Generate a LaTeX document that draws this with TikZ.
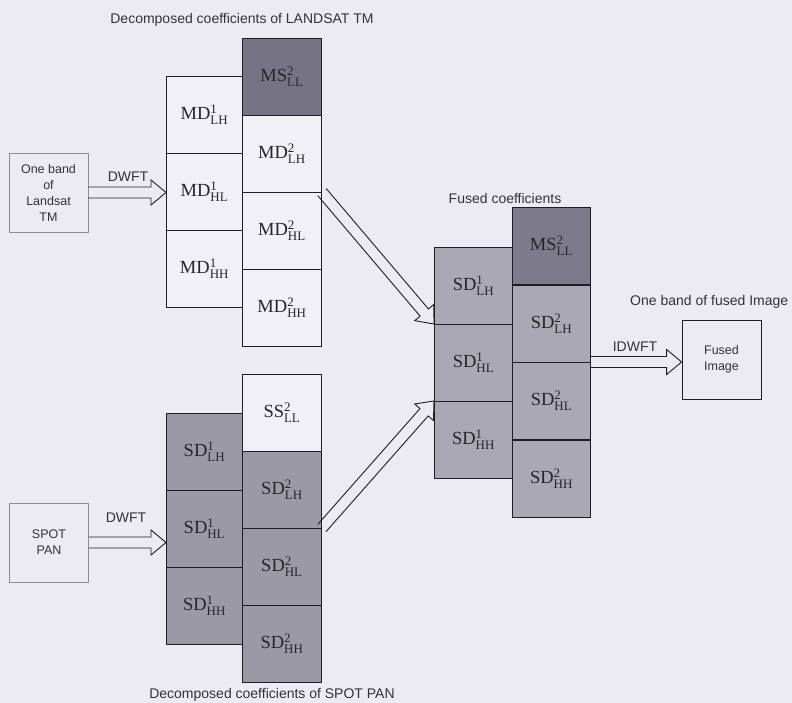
\documentclass[tikz,border=0pt]{standalone}
\usepackage{fontspec}
\usepackage{amsmath}
\setmainfont{Liberation Serif}
\newfontfamily\lblfont{Liberation Sans}
\usetikzlibrary{calc}
\definecolor{pagebg}{RGB}{236,235,243}
\definecolor{cellwhite}{RGB}{241,240,247}
\definecolor{msdark}{RGB}{118,115,133}
\definecolor{sdgray}{RGB}{155,153,166}
\definecolor{fsdgray}{RGB}{170,168,181}
\definecolor{linec}{RGB}{30,30,34}
\definecolor{boxgray}{RGB}{140,140,150}
\newcommand\cf[3]{#1$^{\text{#2}}_{\text{#3}}$}
\newcommand\hollowarrow[2]{%
  \coordinate (hb) at ($(#2)!15pt!(#1)$);
  \draw[harrow] ($(#1)!5.5pt!90:(#2)$) -- ($(hb)!5.5pt!-90:(#1)$) -- ($(hb)!12.5pt!-90:(#1)$) -- (#2)
    -- ($(hb)!12.5pt!90:(#1)$) -- ($(hb)!5.5pt!90:(#1)$) -- ($(#1)!5.5pt!-90:(#2)$);
}
\tikzset{
  cell/.style={rectangle, draw=linec, line width=0.9pt, inner sep=0pt, minimum height=77pt,
    anchor=north west, font=\fontsize{18.5}{20}\selectfont, text=black!85},
  wa/.style={minimum width=76pt},
  wb/.style={minimum width=79pt},
  wc/.style={minimum width=78pt},
  lbl/.style={font=\lblfont\fontsize{14}{16}\selectfont, text=black!80, inner sep=0pt},
  inbox/.style={rectangle, draw=boxgray, line width=0.8pt, minimum width=79pt, minimum height=79pt,
    align=center, font=\lblfont\fontsize{12.5}{16}\selectfont, text=black!80, inner sep=0pt},
  harrow/.style={draw=linec, line width=0.9pt, line join=miter},
}
\begin{document}
\begin{tikzpicture}[x=1pt,y=-1pt]
\useasboundingbox (0,0) rectangle (792,703);
\fill[pagebg] (0,0) rectangle (792,703);

% titles
\node[lbl] (tLand) at (242,20) {Decomposed coefficients of LANDSAT TM};
\node[lbl] (tSpot) at (272,695) {Decomposed coefficients of SPOT PAN};
\node[lbl] (tFused) at (505,198) {Fused coefficients};
\node[lbl, anchor=west] (tOut) at (630,302) {One band of fused Image};

% LANDSAT decomposition
\node[cell, wa, fill=cellwhite] (MDLHa) at (166,76) {\cf{MD}{1}{LH}};
\node[cell, wa, fill=cellwhite] (MDHLa) at (166,153) {\cf{MD}{1}{HL}};
\node[cell, wa, fill=cellwhite] (MDHHa) at (166,230) {\cf{MD}{1}{HH}};
\node[cell, wb, fill=msdark] (MSLLb) at (242,38) {\cf{MS}{2}{LL}};
\node[cell, wb, fill=cellwhite] (MDLHb) at (242,115) {\cf{MD}{2}{LH}};
\node[cell, wb, fill=cellwhite] (MDHLb) at (242,192) {\cf{MD}{2}{HL}};
\node[cell, wb, fill=cellwhite] (MDHHb) at (242,269) {\cf{MD}{2}{HH}};

% SPOT decomposition
\node[cell, wa, fill=sdgray] (SDLHa) at (166,413) {\cf{SD}{1}{LH}};
\node[cell, wa, fill=sdgray] (SDHLa) at (166,490) {\cf{SD}{1}{HL}};
\node[cell, wa, fill=sdgray] (SDHHa) at (166,567) {\cf{SD}{1}{HH}};
\node[cell, wb, fill=cellwhite] (SSLLb) at (242,374) {\cf{SS}{2}{LL}};
\node[cell, wb, fill=sdgray] (SDLHb) at (242,451) {\cf{SD}{2}{LH}};
\node[cell, wb, fill=sdgray] (SDHLb) at (242,528) {\cf{SD}{2}{HL}};
\node[cell, wb, fill=sdgray] (SDHHb) at (242,605) {\cf{SD}{2}{HH}};

% Fused coefficients
\node[cell, wc, fill=fsdgray] (FLHa) at (434,247) {\cf{SD}{1}{LH}};
\node[cell, wc, fill=fsdgray] (FHLa) at (434,324) {\cf{SD}{1}{HL}};
\node[cell, wc, fill=fsdgray] (FHHa) at (434,401) {\cf{SD}{1}{HH}};
\node[cell, wc, fill=msdark!95!white] (FLLb) at (512,207) {\cf{MS}{2}{LL}};
\node[cell, wc, fill=fsdgray] (FLHb) at (512,285) {\cf{SD}{2}{LH}};
\node[cell, wc, fill=fsdgray] (FHLb) at (512,362) {\cf{SD}{2}{HL}};
\node[cell, wc, fill=fsdgray] (FHHb) at (512,440) {\cf{SD}{2}{HH}};

% input / output boxes
\node[inbox] (land) at (48.5,192.5) {One band\\of\\Landsat\\TM};
\node[inbox] (spot) at (49,542.5) {SPOT\\PAN};
\node[inbox, draw=linec] (fimg) at (721.5,359.5) {Fused\\Image};

% transform labels
\node[lbl] (dw1) at (128,177) {DWFT};
\node[lbl] (dw2) at (126,518) {DWFT};
\node[lbl] (idw) at (635,347) {IDWFT};

% connectors
\coordinate (a1e) at (land.east -| MDHLa.west);
\hollowarrow{land.east}{a1e}
\coordinate (a2e) at (spot.east -| SDHLa.west);
\hollowarrow{spot.east}{a2e}
\coordinate (a3s) at (FHLb.north east);
\coordinate (a3e) at (a3s -| fimg.west);
\hollowarrow{a3s}{a3e}
\coordinate (d1s) at (MDHLb.north east);
\coordinate (d1e) at (FHLa.north west);
\hollowarrow{d1s}{d1e}
\coordinate (d2s) at (SDHLb.north east);
\coordinate (d2e) at (FHHa.north west);
\hollowarrow{d2s}{d2e}
\end{tikzpicture}
\end{document}
